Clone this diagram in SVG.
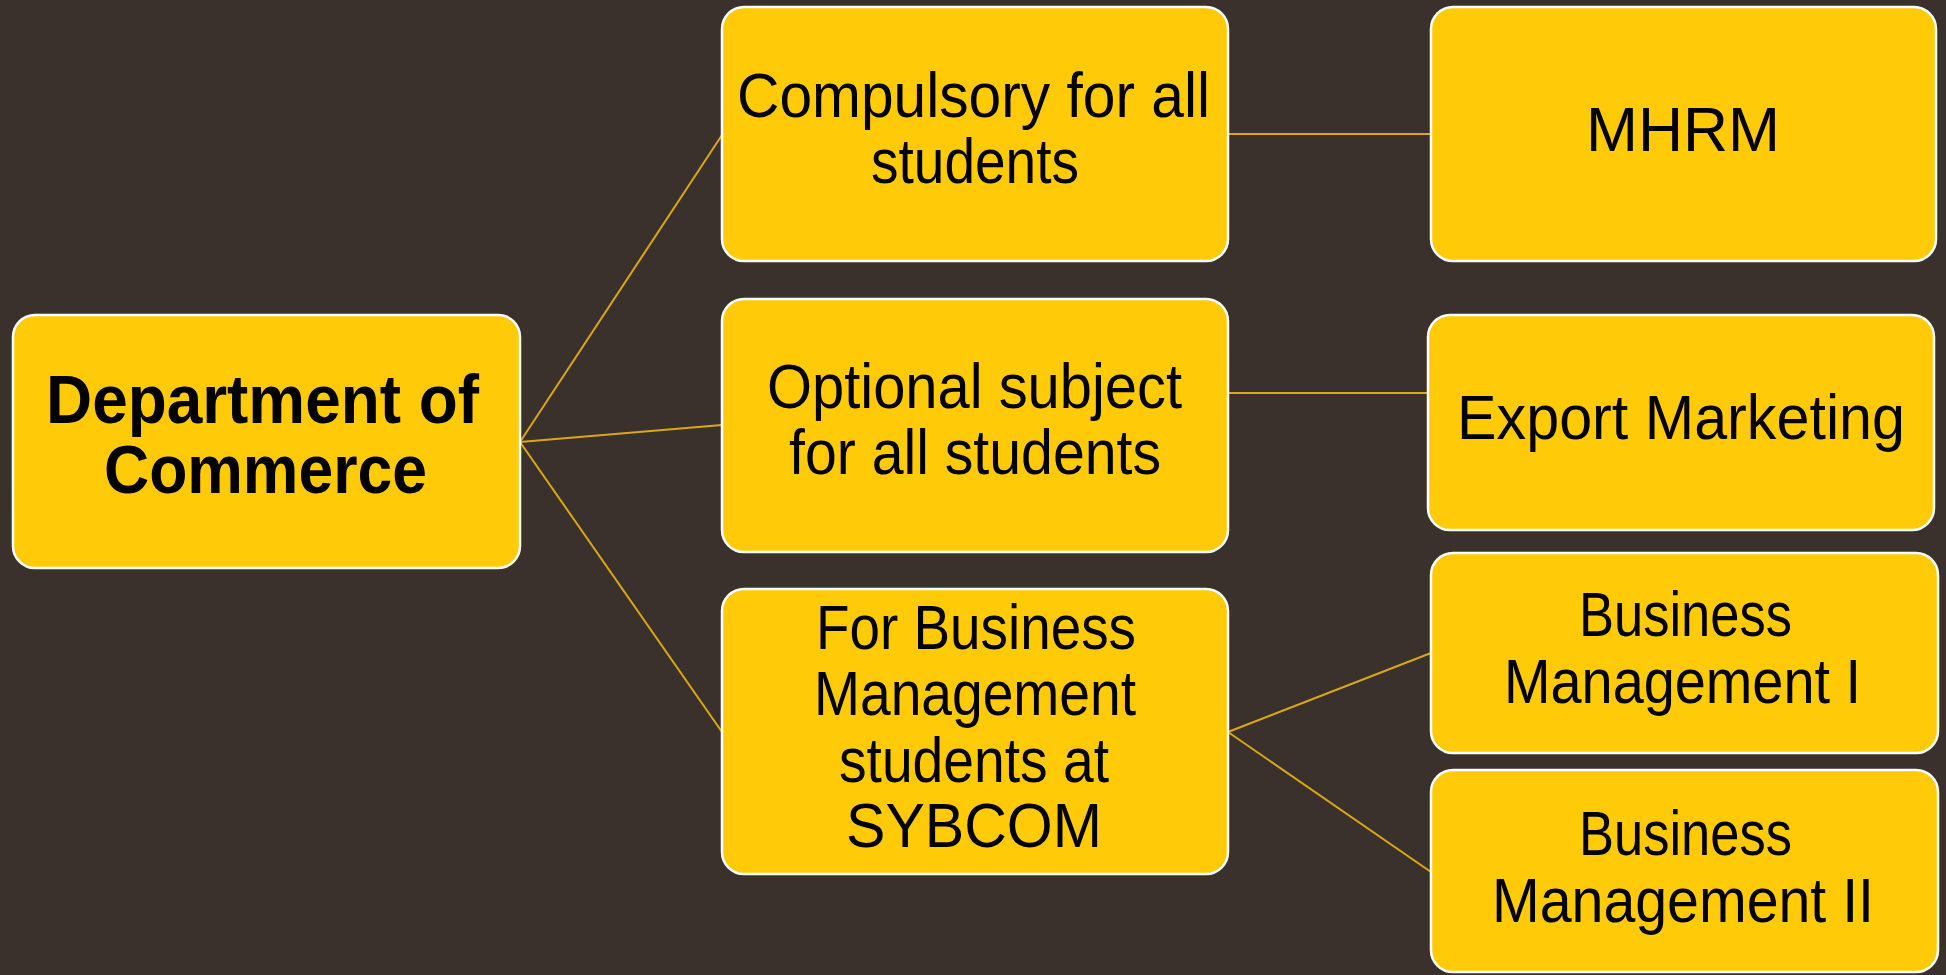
<svg xmlns="http://www.w3.org/2000/svg" width="1946" height="975" viewBox="0 0 1946 975">
<style>
.box{fill:#FFCA08;stroke:#FFFFFF;stroke-width:2.5}
.t{font-family:"Liberation Sans",Arial,sans-serif;font-size:63px;fill:#000000}
.b{font-family:"Liberation Sans",Arial,sans-serif;font-size:68px;font-weight:bold;fill:#000000}
.c{stroke:#D9A816;stroke-width:2;fill:none}
</style>
<rect x="0" y="0" width="1946" height="975" fill="#3A312C"/>
<g id="connectors">
<line class="c" x1="520" y1="442" x2="722" y2="135"/>
<line class="c" x1="520" y1="442" x2="722" y2="425"/>
<line class="c" x1="520" y1="442" x2="722" y2="732"/>
<line class="c" x1="1228" y1="134" x2="1431" y2="134"/>
<line class="c" x1="1228" y1="393" x2="1428" y2="393"/>
<line class="c" x1="1228" y1="732" x2="1431" y2="653"/>
<line class="c" x1="1228" y1="732" x2="1431" y2="872"/>
</g>
<g id="root">
<rect class="box" x="13" y="315" width="507" height="253" rx="22"/>
<text class="b" x="46" y="423" textLength="433" lengthAdjust="spacingAndGlyphs">Department of</text>
<text class="b" x="104" y="493" textLength="323" lengthAdjust="spacingAndGlyphs">Commerce</text>
</g>
<g id="compulsory">
<rect class="box" x="722" y="7" width="506" height="254" rx="22"/>
<text class="t" x="737" y="117" textLength="473" lengthAdjust="spacingAndGlyphs">Compulsory for all</text>
<text class="t" x="871" y="183" textLength="208" lengthAdjust="spacingAndGlyphs">students</text>
</g>
<g id="optional">
<rect class="box" x="722" y="299" width="506" height="253" rx="22"/>
<text class="t" x="767" y="408" textLength="415" lengthAdjust="spacingAndGlyphs">Optional subject</text>
<text class="t" x="789" y="474" textLength="372" lengthAdjust="spacingAndGlyphs">for all students</text>
</g>
<g id="business">
<rect class="box" x="722" y="589" width="506" height="285" rx="22"/>
<text class="t" x="816" y="649" textLength="320" lengthAdjust="spacingAndGlyphs">For Business</text>
<text class="t" x="814" y="715" textLength="322" lengthAdjust="spacingAndGlyphs">Management</text>
<text class="t" x="839" y="782" textLength="270" lengthAdjust="spacingAndGlyphs">students at</text>
<text class="t" x="846" y="847" textLength="256" lengthAdjust="spacingAndGlyphs">SYBCOM</text>
</g>
<g id="mhrm">
<rect class="box" x="1431" y="7" width="505" height="254" rx="22"/>
<text class="t" x="1586" y="151" textLength="194" lengthAdjust="spacingAndGlyphs">MHRM</text>
</g>
<g id="export">
<rect class="box" x="1428" y="315" width="506" height="215" rx="22"/>
<text class="t" x="1457" y="439" textLength="448" lengthAdjust="spacingAndGlyphs">Export Marketing</text>
</g>
<g id="bm1">
<rect class="box" x="1431" y="553" width="507" height="200" rx="22"/>
<text class="t" x="1579" y="636" textLength="213" lengthAdjust="spacingAndGlyphs">Business</text>
<text class="t" x="1504" y="703" textLength="357" lengthAdjust="spacingAndGlyphs">Management I</text>
</g>
<g id="bm2">
<rect class="box" x="1431" y="770" width="507" height="202" rx="22"/>
<text class="t" x="1579" y="855" textLength="213" lengthAdjust="spacingAndGlyphs">Business</text>
<text class="t" x="1492" y="922" textLength="382" lengthAdjust="spacingAndGlyphs">Management II</text>
</g>
</svg>
